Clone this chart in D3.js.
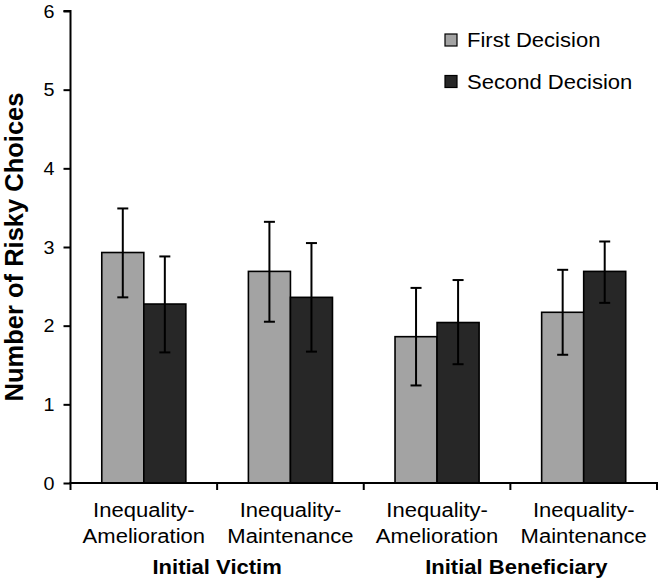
<!DOCTYPE html>
<html>
<head>
<meta charset="utf-8">
<script src="https://cdn.jsdelivr.net/npm/d3@7"></script>
<style>
  html, body { margin: 0; padding: 0; background: #fff; }
  svg { display: block; font-family: "Liberation Sans", Arial, Helvetica, sans-serif; }
</style>
</head>
<body>
<svg id="chart" width="660" height="584"></svg>
<script>
// ---- data ----
const categories = ["VA", "VM", "BA", "BM"];
const categoryLine1 = ["Inequality-", "Inequality-", "Inequality-", "Inequality-"];
const categoryLine2 = ["Amelioration", "Maintenance", "Amelioration", "Maintenance"];
const groupLabels = ["Initial Victim", "Initial Beneficiary"];
const seriesNames = ["First Decision", "Second Decision"];
const firstMeans = [2.93, 2.69, 1.86, 2.17];
const firstLow   = [2.36, 2.05, 1.24, 1.63];
const firstHigh  = [3.49, 3.32, 2.48, 2.71];
const secondMeans = [2.275, 2.36, 2.04, 2.69];
const secondLow   = [1.66, 1.67, 1.51, 2.29];
const secondHigh  = [2.88, 3.05, 2.58, 3.07];
const yTicks = [0, 1, 2, 3, 4, 5, 6];
const yTitle = "Number of Risky Choices";

const colors = ["#a3a3a3", "#272727"];
const SX = 1.13; // horizontal stretch of text in reference

const svg = d3.select("#chart");

const mLeft = 70.5, mRight = 657, mTop = 11, mBottom = 483;
const pi = 0.4266;
const x0 = d3.scaleBand().domain(categories).range([mLeft, mRight]).paddingInner(pi).paddingOuter(pi / 2);
const x1 = d3.scaleBand().domain(seriesNames).range([0, x0.bandwidth()]);
const y = d3.scaleLinear().domain([0, 6]).range([mBottom, mTop]);

const rows = [];
categories.forEach((c, i) => {
  rows.push({cat: c, s: seriesNames[0], v: firstMeans[i], lo: firstLow[i], hi: firstHigh[i], k: 0});
  rows.push({cat: c, s: seriesNames[1], v: secondMeans[i], lo: secondLow[i], hi: secondHigh[i], k: 1});
});

// bars
svg.append("g").selectAll("rect").data(rows).join("rect")
  .attr("x", d => x0(d.cat) + x1(d.s))
  .attr("y", d => y(d.v))
  .attr("width", x1.bandwidth())
  .attr("height", d => y(0) - y(d.v))
  .attr("fill", d => colors[d.k])
  .attr("stroke", "#000")
  .attr("stroke-width", 1.6);

// error bars
const eb = svg.append("g").attr("stroke", "#000").attr("stroke-width", 2);
rows.forEach(d => {
  const cx = x0(d.cat) + x1(d.s) + x1.bandwidth() / 2;
  eb.append("line").attr("x1", cx).attr("x2", cx).attr("y1", y(d.lo)).attr("y2", y(d.hi));
  eb.append("line").attr("x1", cx - 5.5).attr("x2", cx + 5.5).attr("y1", y(d.lo)).attr("y2", y(d.lo));
  eb.append("line").attr("x1", cx - 5.5).attr("x2", cx + 5.5).attr("y1", y(d.hi)).attr("y2", y(d.hi));
});

// y axis
const yAxis = d3.axisLeft(y).tickValues(yTicks).tickSize(7).tickPadding(8).tickFormat(d3.format("d"));
const gy = svg.append("g").attr("transform", `translate(${mLeft},0)`).call(yAxis);
gy.select(".domain").attr("stroke", "#000").attr("stroke-width", 2).attr("d", `M-7,${mTop}H0V${mBottom}`);
gy.selectAll(".tick line").attr("stroke", "#000").attr("stroke-width", 2);
gy.selectAll(".tick text").each(function(d) {
  const t = d3.select(this);
  t.attr("x", null).attr("dy", null).attr("font-size", 17.5).attr("fill", "#000")
   .attr("text-anchor", "end")
   .attr("transform", `translate(-16,6) scale(${SX},1)`);
});

// x axis line + ticks at boundaries
const step = x0.step();
const boundaries = [mLeft].concat(categories.map(c => x0(c) + x0.bandwidth() / 2 + step / 2));
const gx = svg.append("g").attr("stroke", "#000").attr("stroke-width", 2);
gx.append("line").attr("x1", mLeft - 1).attr("x2", boundaries[boundaries.length - 1] + 1).attr("y1", mBottom).attr("y2", mBottom);
boundaries.forEach(b => {
  gx.append("line").attr("x1", b).attr("x2", b).attr("y1", mBottom).attr("y2", mBottom + 7);
});

// category labels
const lab = svg.append("g").attr("font-size", 19.5).attr("fill", "#000").attr("text-anchor", "middle");
categories.forEach((c, i) => {
  const cx = x0(c) + x0.bandwidth() / 2;
  lab.append("text").attr("transform", `translate(${cx},517) scale(${SX},1)`).text(categoryLine1[i]);
  lab.append("text").attr("transform", `translate(${cx},543) scale(${SX},1)`).text(categoryLine2[i]);
});
// group labels
const gl = svg.append("g").attr("font-size", 19.5).attr("font-weight", "bold").attr("fill", "#000").attr("text-anchor", "middle");
groupLabels.forEach((g, i) => {
  const cx = (boundaries[2 * i + 1]) + (i === 1 ? 6 : 0);
  gl.append("text").attr("transform", `translate(${cx},574) scale(${SX},1)`).text(g);
});

// y title
svg.append("text")
  .attr("transform", `translate(22.5,247) rotate(-90)`)
  .attr("text-anchor", "middle")
  .attr("font-size", 25.5)
  .attr("font-weight", "bold")
  .attr("fill", "#000")
  .text(yTitle);

// legend
const lg = svg.append("g");
seriesNames.forEach((s, i) => {
  const yy = 34 + i * 41.5;
  lg.append("rect").attr("x", 445).attr("y", yy).attr("width", 12).attr("height", 12)
    .attr("fill", colors[i]).attr("stroke", "#000").attr("stroke-width", 1.2);
  lg.append("text").attr("transform", `translate(467,${yy + 13}) scale(${SX},1)`)
    .attr("font-size", 19.5).attr("fill", "#000").text(s);
});
</script>
</body>
</html>
